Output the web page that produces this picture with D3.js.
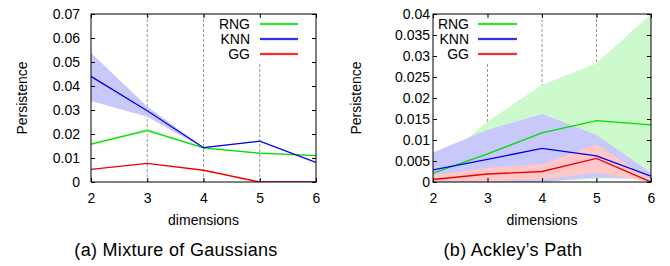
<!DOCTYPE html>
<html>
<head>
<meta charset="utf-8">
<script src="https://cdn.jsdelivr.net/npm/d3@7"></script>
<style>
body { margin: 0; background: #fff; }
svg text { font-family: "Liberation Sans", Arial, Helvetica, sans-serif; fill: #000; }
</style>
</head>
<body>
<svg width="670" height="266"></svg>
<script>
// x values, shared by both panels
var dims = [2, 3, 4, 5, 6];
var seriesNames = ['RNG', 'KNN', 'GG'];

// (a) Mixture of Gaussians: mean and band (lo / hi)
var mogRNG   = [0.0158, 0.0215, 0.0142, 0.0120, 0.0110];
var mogRNGLo = [0.0152, 0.0208, 0.0139, 0.0117, 0.0107];
var mogRNGHi = [0.0164, 0.0223, 0.0146, 0.0123, 0.0113];
var mogKNN   = [0.0440, 0.0297, 0.0143, 0.0170, 0.0082];
var mogKNNLo = [0.0338, 0.0272, 0.0141, 0.0169, 0.0081];
var mogKNNHi = [0.0537, 0.0315, 0.0146, 0.0171, 0.0083];
var mogGG    = [0.0053, 0.0078, 0.0049, 0.0000, 0.0000];
var mogGGLo  = [0.0053, 0.0078, 0.0049, 0.0000, 0.0000];
var mogGGHi  = [0.0053, 0.0078, 0.0049, 0.0000, 0.0000];
var mogYTicks = [0, 0.01, 0.02, 0.03, 0.04, 0.05, 0.06, 0.07];

// (b) Ackley's Path
var ackRNG   = [0.0021, 0.0067, 0.0117, 0.0146, 0.0136];
var ackRNGLo = [0.0010, 0.0002, 0.0002, 0.0008, 0.0008];
var ackRNGHi = [0.0035, 0.0144, 0.0231, 0.0283, 0.0400];
var ackKNN   = [0.0029, 0.0054, 0.0080, 0.0062, 0.0014];
var ackKNNLo = [0.0000, 0.0000, 0.0000, 0.0011, 0.0007];
var ackKNNHi = [0.0070, 0.0124, 0.0162, 0.0112, 0.0022];
var ackGG    = [0.0006, 0.0019, 0.0025, 0.0056, 0.0000];
var ackGGLo  = [0.0000, 0.0002, 0.0006, 0.0022, 0.0000];
var ackGGHi  = [0.0016, 0.0034, 0.0042, 0.0090, 0.0004];
var ackYTicks = [0, 0.005, 0.01, 0.015, 0.02, 0.025, 0.03, 0.035, 0.04];

var lineColors = {RNG: '#00dd00', KNN: '#0000ee', GG: '#ee0000'};
var bandColors = {RNG: '#ccfacc', KNN: '#c8c8fa', GG: '#ffc8c8'};

var panels = [
  { id: 'a', left: 91, right: 316, top: 14, bottom: 182, yTicks: mogYTicks, tickPad: 11,
    ylabX: 27, title: '(a)  Mixture of Gaussians', titleX: 176,
    keyText: 250, keyLine: [260, 298], keyBox: [212, 304],
    data: {RNG: [mogRNG, mogRNGLo, mogRNGHi], KNN: [mogKNN, mogKNNLo, mogKNNHi], GG: [mogGG, mogGGLo, mogGGHi]} },
  { id: 'b', left: 433, right: 651, top: 14, bottom: 182, yTicks: ackYTicks, tickPad: 3,
    ylabX: 361, title: '(b)  Ackley\u2019s Path', titleX: 513,
    keyText: 469, keyLine: [478, 517], keyBox: [434, 523],
    data: {RNG: [ackRNG, ackRNGLo, ackRNGHi], KNN: [ackKNN, ackKNNLo, ackKNNHi], GG: [ackGG, ackGGLo, ackGGHi]} }
];

var svg = d3.select('svg');

function drawPanel(p)
{
  var x = d3.scaleLinear().domain([dims[0], dims[dims.length-1]]).range([p.left, p.right]);
  var y = d3.scaleLinear().domain([0, p.yTicks[p.yTicks.length-1]]).range([p.bottom, p.top]);
  var g = svg.append('g');

  svg.append('defs').append('clipPath').attr('id', 'clip' + p.id)
     .append('rect').attr('x', p.left).attr('y', p.top)
     .attr('width', p.right - p.left).attr('height', p.bottom - p.top);

  // dashed grid on inner x ticks
  g.selectAll('.grid').data(dims.slice(1, -1)).enter().append('line')
   .attr('x1', d => x(d)).attr('x2', d => x(d))
   .attr('y1', p.top).attr('y2', p.bottom)
   .attr('stroke', '#999').attr('stroke-dasharray', '3,2').attr('stroke-width', 1);

  // key area hides the grid
  g.append('rect').attr('x', p.keyBox[0]).attr('y', p.top + 1)
   .attr('width', p.keyBox[1] - p.keyBox[0]).attr('height', 47).attr('fill', '#fff');

  var plot = g.append('g').attr('clip-path', 'url(#clip' + p.id + ')');

  var area = d3.area().x(d => x(d.x)).y0(d => y(d.lo)).y1(d => y(d.hi));
  var line = d3.line().x(d => x(d.x)).y(d => y(d.v));

  seriesNames.forEach(function(name) {
    var s = p.data[name];
    var pts = dims.map((d, i) => ({x: d, v: s[0][i], lo: s[1][i], hi: s[2][i]}));
    plot.append('path').datum(pts).attr('d', area).attr('fill', bandColors[name]);
  });
  seriesNames.forEach(function(name) {
    var s = p.data[name];
    var pts = dims.map((d, i) => ({x: d, v: s[0][i]}));
    plot.append('path').datum(pts).attr('d', line).attr('fill', 'none')
        .attr('stroke', lineColors[name]).attr('stroke-width', 1.3);
  });

  // axes, ticks pointing inward
  g.append('g').attr('transform', 'translate(' + p.left + ',0)')
   .call(d3.axisLeft(y).tickValues(p.yTicks).tickFormat(d => String(d)).tickSize(-4).tickPadding(p.tickPad));
  g.append('g').attr('transform', 'translate(' + p.right + ',0)')
   .call(d3.axisRight(y).tickValues(p.yTicks).tickFormat('').tickSize(-4));
  g.append('g').attr('transform', 'translate(0,' + p.bottom + ')')
   .call(d3.axisBottom(x).tickValues(dims).tickFormat(d => String(d)).tickSize(-4).tickPadding(11));
  g.append('g').attr('transform', 'translate(0,' + p.top + ')')
   .call(d3.axisTop(x).tickValues(dims).tickFormat('').tickSize(-4));
  g.selectAll('.domain').remove();
  g.selectAll('.tick line').attr('stroke', '#000');
  g.selectAll('.tick text').attr('font-size', 14).attr('font-family', null);

  g.append('rect').attr('x', p.left).attr('y', p.top)
   .attr('width', p.right - p.left).attr('height', p.bottom - p.top)
   .attr('fill', 'none').attr('stroke', '#000').attr('stroke-width', 1);

  // axis titles
  g.append('text').attr('transform', 'translate(' + p.ylabX + ',' + (p.top + p.bottom) / 2 + ') rotate(-90)')
   .attr('text-anchor', 'middle').attr('font-size', 14).text('Persistence');
  g.append('text').attr('x', (p.left + p.right) / 2).attr('y', 225)
   .attr('text-anchor', 'middle').attr('font-size', 14).text('dimensions');
  g.append('text').attr('x', p.titleX).attr('y', 256)
   .attr('text-anchor', 'middle').attr('font-size', 18).attr('letter-spacing', 0.3).text(p.title);

  // key
  seriesNames.forEach(function(name, i) {
    var ky = p.top + 10 + i * 15;
    g.append('text').attr('x', p.keyText).attr('y', ky + 5)
     .attr('text-anchor', 'end').attr('font-size', 14).text(name);
    g.append('rect').attr('x', p.keyLine[0]).attr('y', ky - 1.5)
     .attr('width', p.keyLine[1] - p.keyLine[0]).attr('height', 3).attr('fill', bandColors[name]);
    g.append('line').attr('x1', p.keyLine[0]).attr('x2', p.keyLine[1]).attr('y1', ky).attr('y2', ky)
     .attr('stroke', lineColors[name]).attr('stroke-width', 1.3);
  });
}

panels.forEach(drawPanel);
</script>
</body>
</html>
